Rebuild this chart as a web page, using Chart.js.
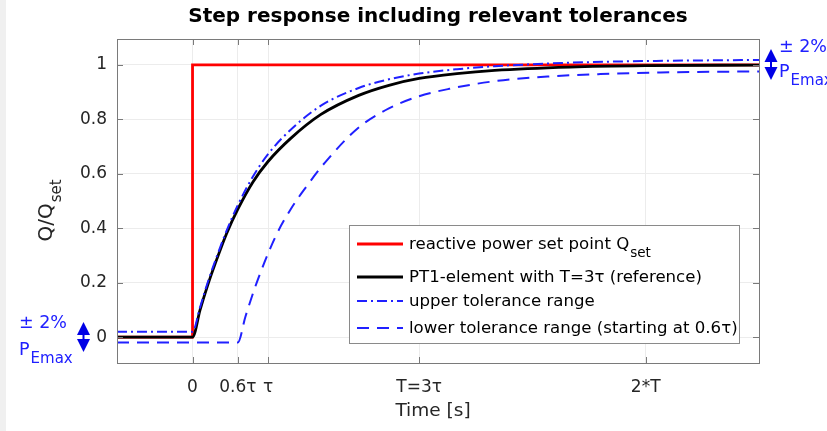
<!DOCTYPE html>
<html>
<head>
<meta charset="utf-8">
<script src="https://cdn.jsdelivr.net/npm/chart.js@4.4.1/dist/chart.umd.min.js"></script>
<style>
  html, body { margin: 0; padding: 0; background: #fff; }
  #wrap { width: 827px; height: 431px; }
</style>
</head>
<body>
<div id="wrap"><canvas id="stepChart" width="827" height="431"></canvas></div>
<script>
const FONT = '"DejaVu Sans", sans-serif';
const titleText = 'Step response including relevant tolerances';
const xTitle = 'Time [s]';
const yTitle = 'Q/Q';
const yTitleSub = 'set';

// x axis in units of tau (T = 3 tau)
const xTickVals = [0, 0.6, 1, 3, 6];
const xTickLabels = ['0', '0.6τ', 'τ', 'T=3τ', '2*T'];
const yTickVals = [0, 0.2, 0.4, 0.6, 0.8, 1];
const yTickLabels = ['0', '0.2', '0.4', '0.6', '0.8', '1'];

// reactive power set point
const setT = [-1, 0, 0, 7.5];
const setQ = [0, 0, 1, 1];

// PT1 reference
const refT = [-1, 0, 0.1, 0.2, 0.3, 0.45, 0.6, 0.8, 1.0, 1.3, 1.7, 2.2, 2.6, 3.0, 3.5, 4.0, 5.0, 6.0, 7.5];
const refQ = [0, 0, 0.1, 0.19, 0.27, 0.38, 0.47, 0.57, 0.645, 0.73, 0.818, 0.888, 0.925, 0.95, 0.968, 0.98, 0.992, 0.997, 0.999];

// upper tolerance
const upT = [-1, 0, 0.1, 0.2, 0.3, 0.45, 0.6, 0.8, 1.0, 1.3, 1.7, 2.2, 2.6, 3.0, 3.5, 4.0, 5.0, 6.0, 7.5];
const upQ = [0.02, 0.02, 0.11, 0.2, 0.28, 0.39, 0.485, 0.59, 0.672, 0.762, 0.85, 0.915, 0.947, 0.968, 0.984, 0.995, 1.008, 1.014, 1.018];

// lower tolerance (starting at 0.6 tau)
const lowT = [-1, 0.6, 0.7, 0.85, 1.1, 1.3, 1.5, 1.75, 2.2, 2.6, 3.0, 3.4, 4.0, 4.7, 5.4, 6.2, 7.5];
const lowQ = [-0.02, -0.02, 0.075, 0.2, 0.37, 0.47, 0.55, 0.64, 0.77, 0.84, 0.885, 0.912, 0.94, 0.957, 0.966, 0.972, 0.976];

const legendMain = ['reactive power set point Q', 'PT1-element with T=3τ (reference)', 'upper tolerance range', 'lower tolerance range (starting at 0.6τ)'];
const legendSub = ['set', '', '', ''];

const blue = '#2020ff';

function pts(xs, ys) {
    return xs.map(function (x, i) { return { x: x, y: ys[i] }; });
}

function textSub(ctx, main, sub, x, y, size, subSize) {
    ctx.font = size + 'px ' + FONT;
    ctx.fillText(main, x, y);
    if (sub) {
        const w = ctx.measureText(main).width;
        ctx.font = subSize + 'px ' + FONT;
        ctx.fillText(sub, x + w + 1, y + size * 0.5);
    }
}

function doubleArrow(ctx, cx, yTop, yBot) {
    ctx.fillStyle = '#0000e6';
    ctx.beginPath();
    ctx.moveTo(cx, yTop); ctx.lineTo(cx - 6.5, yTop + 13); ctx.lineTo(cx + 6.5, yTop + 13);
    ctx.closePath(); ctx.fill();
    ctx.beginPath();
    ctx.moveTo(cx, yBot); ctx.lineTo(cx - 6.5, yBot - 13); ctx.lineTo(cx + 6.5, yBot - 13);
    ctx.closePath(); ctx.fill();
    ctx.fillRect(cx - 1, yTop + 12, 2, yBot - yTop - 24);
}

const decor = {
    id: 'decor',
    beforeDraw(chart) {
        const ctx = chart.ctx;
        ctx.save();
        ctx.fillStyle = '#ffffff';
        ctx.fillRect(0, 0, chart.width, chart.height);
        ctx.fillStyle = '#f0f0f0';
        ctx.fillRect(0, 0, 6, chart.height);
        ctx.restore();
    },
    afterDraw(chart) {
        const ctx = chart.ctx;
        const a = chart.chartArea;
        const xs = chart.scales.x, ys = chart.scales.y;
        ctx.save();

        // box + inner ticks
        ctx.strokeStyle = '#7a7a7a';
        ctx.lineWidth = 1;
        ctx.strokeRect(Math.round(a.left) + 0.5, Math.round(a.top) + 0.5, Math.round(a.right - a.left), Math.round(a.bottom - a.top));
        ctx.beginPath();
        xTickVals.forEach(function (v) {
            const px = Math.round(xs.getPixelForValue(v)) + 0.5;
            ctx.moveTo(px, a.bottom); ctx.lineTo(px, a.bottom - 6);
            ctx.moveTo(px, a.top); ctx.lineTo(px, a.top + 6);
        });
        yTickVals.forEach(function (v) {
            const py = Math.round(ys.getPixelForValue(v)) + 0.5;
            ctx.moveTo(a.left, py); ctx.lineTo(a.left + 6, py);
            ctx.moveTo(a.right, py); ctx.lineTo(a.right - 6, py);
        });
        ctx.stroke();

        // title
        ctx.fillStyle = '#000';
        ctx.textAlign = 'center';
        ctx.textBaseline = 'middle';
        ctx.font = 'bold 20px ' + FONT;
        ctx.fillText(titleText, (a.left + a.right) / 2, 17);

        // x title
        ctx.fillStyle = '#262626';
        ctx.font = '18.5px ' + FONT;
        ctx.fillText(xTitle, (a.left + a.right) / 2 - 5, 411);

        // y title, rotated
        ctx.save();
        ctx.translate(47, 211);
        ctx.rotate(-Math.PI / 2);
        ctx.font = '20px ' + FONT;
        const wq = ctx.measureText(yTitle).width;
        ctx.font = '15px ' + FONT;
        const ws = ctx.measureText(yTitleSub).width;
        ctx.textAlign = 'left';
        textSub(ctx, yTitle, yTitleSub, -(wq + ws) / 2, 0, 20, 15);
        ctx.restore();

        // legend
        const lx = 349, ly = 225, lw = 390, lh = 118;
        ctx.fillStyle = '#fff';
        ctx.fillRect(lx, ly, lw, lh);
        ctx.strokeStyle = '#8a8a8a';
        ctx.lineWidth = 1;
        ctx.strokeRect(lx + 0.5, ly + 0.5, lw, lh);
        const rowY = [244, 277, 301, 328];
        chart.data.datasets.forEach(function (ds, i) {
            ctx.strokeStyle = ds.borderColor;
            ctx.lineWidth = ds.borderWidth;
            ctx.setLineDash(ds.borderDash || []);
            ctx.beginPath();
            ctx.moveTo(357, rowY[i]); ctx.lineTo(403, rowY[i]);
            ctx.stroke();
            ctx.setLineDash([]);
            ctx.fillStyle = '#000';
            ctx.textAlign = 'left';
            ctx.textBaseline = 'middle';
            textSub(ctx, legendMain[i], legendSub[i], 409, rowY[i] + 1, 16.6, 13.5);
        });

        // tolerance annotations
        ctx.fillStyle = blue;
        ctx.textAlign = 'left';
        ctx.textBaseline = 'middle';
        ctx.font = '17.5px ' + FONT;
        ctx.fillText('± 2%', 19, 323);
        textSub(ctx, 'P', 'Emax', 19, 350, 17.5, 15);
        ctx.fillStyle = blue;
        ctx.font = '17.5px ' + FONT;
        ctx.fillText('± 2%', 779, 47);
        textSub(ctx, 'P', 'Emax', 779, 72, 17.5, 15);
        doubleArrow(ctx, 83.5, 322, 352);
        doubleArrow(ctx, 771, 49, 80);

        ctx.restore();
    }
};

const ctx = document.getElementById('stepChart').getContext('2d');

new Chart(ctx, {
    type: 'line',
    data: {
        datasets: [{
            label: legendMain[0],
            data: pts(setT, setQ),
            borderColor: '#ff0000',
            borderWidth: 2.8,
            tension: 0,
            order: 4
        }, {
            label: legendMain[1],
            data: pts(refT, refQ),
            borderColor: '#000000',
            borderWidth: 2.8,
            cubicInterpolationMode: 'monotone',
            order: 3
        }, {
            label: legendMain[2],
            data: pts(upT, upQ),
            borderColor: blue,
            borderWidth: 2,
            borderDash: [10, 4, 2, 4],
            cubicInterpolationMode: 'monotone',
            order: 2
        }, {
            label: legendMain[3],
            data: pts(lowT, lowQ),
            borderColor: blue,
            borderWidth: 2,
            borderDash: [12, 8],
            cubicInterpolationMode: 'monotone',
            order: 1
        }]
    },
    options: {
        responsive: false,
        animation: false,
        devicePixelRatio: 1,
        layout: { padding: { left: 0, right: 68, top: 39, bottom: 0 } },
        elements: { point: { radius: 0 } },
        plugins: {
            legend: { display: false },
            tooltip: { enabled: false },
            title: { display: false }
        },
        scales: {
            x: {
                type: 'linear',
                min: -1,
                max: 7.5,
                afterBuildTicks: function (axis) {
                    axis.ticks = xTickVals.map(function (v) { return { value: v }; });
                },
                afterFit: function (s) { s.height = 68; },
                ticks: {
                    autoSkip: false,
                    maxRotation: 0,
                    padding: 14,
                    color: '#262626',
                    font: { family: FONT, size: 17 },
                    callback: function (v, i) { return xTickLabels[i]; }
                },
                grid: { color: '#ececec', drawTicks: false },
                border: { display: false }
            },
            y: {
                min: -0.095,
                max: 1.095,
                afterBuildTicks: function (axis) {
                    axis.ticks = yTickVals.map(function (v) { return { value: v }; });
                },
                afterFit: function (s) { s.width = 117; },
                ticks: {
                    padding: 10,
                    color: '#262626',
                    font: { family: FONT, size: 17 },
                    callback: function (v, i) { return yTickLabels[i]; }
                },
                grid: { color: '#ececec', drawTicks: false },
                border: { display: false }
            }
        }
    },
    plugins: [decor]
});
</script>
</body>
</html>
